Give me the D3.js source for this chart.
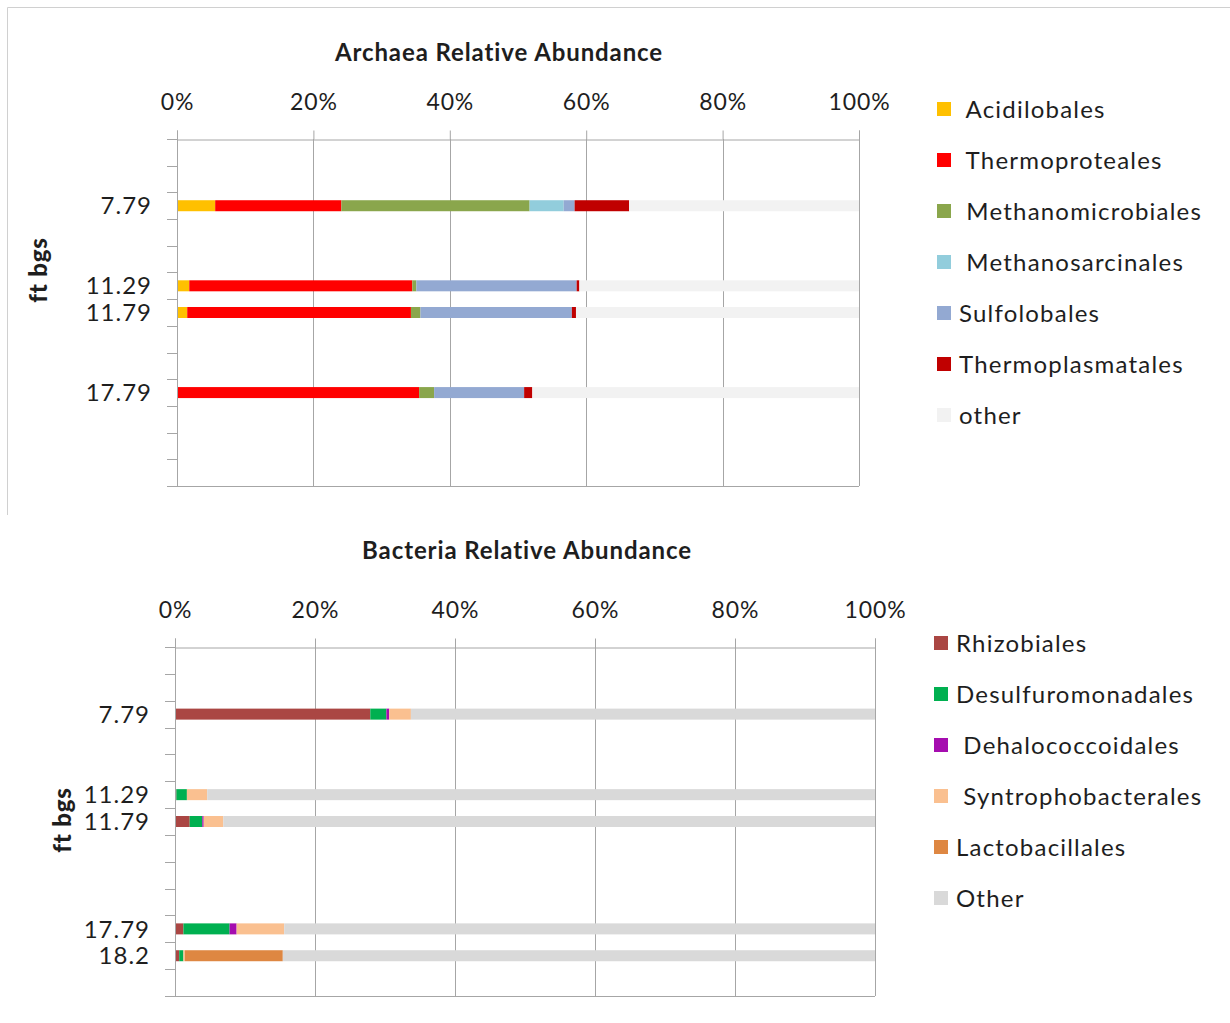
<!DOCTYPE html>
<html><head><meta charset="utf-8">
<script src="https://cdn.jsdelivr.net/npm/d3@7"></script>
<style>
body{margin:0;background:#fff}
svg{display:block}
text{font-family:Lato,"Open Sans",sans-serif;fill:#1e1e1e}
</style>
</head><body>
<svg id="c" width="1230" height="1023"></svg>
<script>
// ---------- Archaea data ----------
const archaeaTitle = "Archaea Relative Abundance";
const archaeaSlotLabels = ["", "", "7.79", "", "", "11.29", "11.79", "", "", "17.79", "", "", ""];
const archaeaSamples = ["7.79", "11.29", "11.79", "17.79"];
const archaeaSeries = ["Acidilobales", "Thermoproteales", "Methanomicrobiales", "Methanosarcinales", "Sulfolobales", "Thermoplasmatales", "other"];
const archaeaLegendLabels = [" Acidilobales", " Thermoproteales", " Methanomicrobiales", " Methanosarcinales", "Sulfolobales", "Thermoplasmatales", "other"];
const archaeaColors = ["#FFC000", "#FF0000", "#8AA64C", "#92CDDC", "#93A9D2", "#C00000", "#F2F2F2"];
const acidilobales      = [5.6, 1.8, 1.5, 0];
const thermoproteales   = [18.5, 32.7, 32.8, 35.5];
const methanomicrobiales= [27.6, 0.6, 1.4, 2.2];
const methanosarcinales = [5.0, 0, 0, 0];
const sulfolobales      = [1.6, 23.5, 22.2, 13.2];
const thermoplasmatales = [8.0, 0.4, 0.6, 1.2];
const archaeaOther      = [33.7, 41.0, 41.5, 47.9];
const archaeaValues = [acidilobales, thermoproteales, methanomicrobiales, methanosarcinales, sulfolobales, thermoplasmatales, archaeaOther];

// ---------- Bacteria data ----------
const bacteriaTitle = "Bacteria Relative Abundance";
const bacteriaSlotLabels = ["", "", "7.79", "", "", "11.29", "11.79", "", "", "", "17.79", "18.2", ""];
const bacteriaSamples = ["7.79", "11.29", "11.79", "17.79", "18.2"];
const bacteriaSeries = ["Rhizobiales", "Desulfuromonadales", "Dehalococcoidales", "Syntrophobacterales", "Lactobacillales", "Other"];
const bacteriaLegendLabels = ["Rhizobiales", "Desulfuromonadales", " Dehalococcoidales", " Syntrophobacterales", "Lactobacillales", "Other"];
const bacteriaColors = ["#AA4643", "#00B050", "#A50DAF", "#FAC090", "#DE8742", "#D9D9D9"];
const rhizobiales         = [27.9, 0.2, 2.1, 1.2, 0.6];
const desulfuromonadales  = [2.3, 1.5, 1.8, 6.6, 0.6];
const dehalococcoidales   = [0.4, 0, 0.2, 1.0, 0];
const syntrophobacterales = [3.1, 2.9, 2.8, 6.8, 0.2];
const lactobacillales     = [0, 0, 0, 0, 14.0];
const bacteriaOther       = [66.3, 95.4, 93.1, 84.4, 84.6];
const bacteriaValues = [rhizobiales, desulfuromonadales, dehalococcoidales, syntrophobacterales, lactobacillales, bacteriaOther];

const xTicks = [0, 20, 40, 60, 80, 100];
const yAxisTitle = "ft bgs";

const svg = d3.select("#c");

// outer border of the top chart
svg.append("path").attr("d", "M7.5,515 L7.5,7.5 L1230,7.5")
  .attr("fill", "none").attr("stroke", "#D0D0D0").attr("stroke-width", 1);

function drawChart(cfg) {
  const g = svg.append("g");
  const x = d3.scaleLinear().domain([0, 100]).range([cfg.x0, cfg.x1]);
  const y = d3.scaleBand().domain(d3.range(cfg.slots.length)).range([cfg.y0, cfg.y1]).padding(0);
  const gridCol = "#A6A6A6";

  // title
  g.append("text").attr("x", cfg.titleX).attr("y", cfg.titleY)
    .attr("text-anchor", "middle").attr("font-weight", "bold").attr("font-size", 24)
    .attr("letter-spacing", 0.9)
    .text(cfg.title);

  // gridlines
  g.append("g").selectAll("line").data(xTicks.slice(1)).join("line")
    .attr("x1", d => Math.round(x(d)) + 0.5).attr("x2", d => Math.round(x(d)) + 0.5)
    .attr("y1", cfg.y0).attr("y2", cfg.y1)
    .attr("stroke", gridCol).attr("stroke-width", 1);
  // bottom border line
  g.append("line").attr("x1", cfg.x0).attr("x2", cfg.x1)
    .attr("y1", Math.round(cfg.y1) + 0.5).attr("y2", Math.round(cfg.y1) + 0.5)
    .attr("stroke", gridCol);

  // bars
  const rows = cfg.samples.map((s, i) => {
    const r = {sample: s};
    cfg.series.forEach((k, j) => r[k] = cfg.values[j][i]);
    return r;
  });
  const stacked = d3.stack().keys(cfg.series)(rows);
  const barH = 11;
  stacked.forEach((layer, j) => {
    g.append("g").selectAll("rect").data(layer).join("rect")
      .attr("x", d => x(d[0]))
      .attr("width", d => Math.max(0, x(d[1]) - x(d[0])))
      .attr("y", d => y(cfg.slots.indexOf(d.data.sample)) + y.bandwidth() / 2 - barH / 2)
      .attr("height", barH)
      .attr("fill", cfg.colors[j]);
  });

  // top x axis
  const xa = g.append("g").attr("transform", `translate(0,${Math.round(cfg.y0) + 0.5})`)
    .call(d3.axisTop(x).tickValues(xTicks).tickFormat(d => d + "%").tickSize(9).tickPadding(21));
  xa.select(".domain").attr("stroke", gridCol);
  xa.selectAll(".tick line").attr("stroke", gridCol);
  xa.selectAll("text").attr("font-size", 23).attr("letter-spacing", 0.9)
    .attr("font-family", "Lato,'Open Sans',sans-serif").attr("fill", "#1e1e1e");

  // left y axis: ticks at band boundaries
  const boundaries = d3.range(cfg.slots.length + 1).map(i => cfg.y0 + i * y.step());
  g.append("line").attr("x1", Math.round(cfg.x0) + 0.5).attr("x2", Math.round(cfg.x0) + 0.5)
    .attr("y1", cfg.y0).attr("y2", cfg.y1).attr("stroke", gridCol);
  g.append("g").selectAll("line").data(boundaries).join("line")
    .attr("x1", cfg.x0 - 10).attr("x2", cfg.x0)
    .attr("y1", d => Math.round(d) + 0.5).attr("y2", d => Math.round(d) + 0.5)
    .attr("stroke", gridCol);
  g.append("g").selectAll("text").data(cfg.slots.map((l, i) => ({l, i})).filter(d => d.l)).join("text")
    .attr("x", cfg.x0 - 25).attr("y", d => y(d.i) + y.bandwidth() / 2)
    .attr("dy", "0.36em").attr("text-anchor", "end").attr("font-size", 24).attr("letter-spacing", 1)
    .text(d => d.l);

  // y axis title
  g.append("text").attr("transform", `translate(${cfg.ytX},${cfg.ytY}) rotate(-90)`)
    .attr("text-anchor", "middle").attr("font-weight", 900).attr("font-size", 24)
    .attr("letter-spacing", 0.8)
    .attr("dy", "0.36em").text(yAxisTitle);

  // legend
  const lg = g.append("g");
  cfg.legend.forEach((lab, j) => {
    const cy = cfg.legY0 + j * cfg.legStep;
    lg.append("rect").attr("x", cfg.legX).attr("y", cy - 7).attr("width", 14).attr("height", 14)
      .attr("fill", cfg.colors[j]);
    lg.append("text").attr("x", cfg.legX + 22).attr("y", cy).attr("dy", "0.36em")
      .attr("font-size", 24).attr("letter-spacing", 1.2).style("white-space", "pre").text(lab);
  });
}

drawChart({
  title: archaeaTitle, titleX: 499, titleY: 61,
  slots: archaeaSlotLabels, samples: archaeaSamples, series: archaeaSeries,
  values: archaeaValues, colors: archaeaColors, legend: archaeaLegendLabels,
  x0: 177, x1: 859, y0: 139, y1: 486,
  ytX: 38, ytY: 270,
  legX: 937, legY0: 109, legStep: 51
});

drawChart({
  title: bacteriaTitle, titleX: 527, titleY: 559,
  slots: bacteriaSlotLabels, samples: bacteriaSamples, series: bacteriaSeries,
  values: bacteriaValues, colors: bacteriaColors, legend: bacteriaLegendLabels,
  x0: 175, x1: 875, y0: 647, y1: 996,
  ytX: 62, ytY: 820,
  legX: 934, legY0: 643, legStep: 51
});
</script>
</body></html>
